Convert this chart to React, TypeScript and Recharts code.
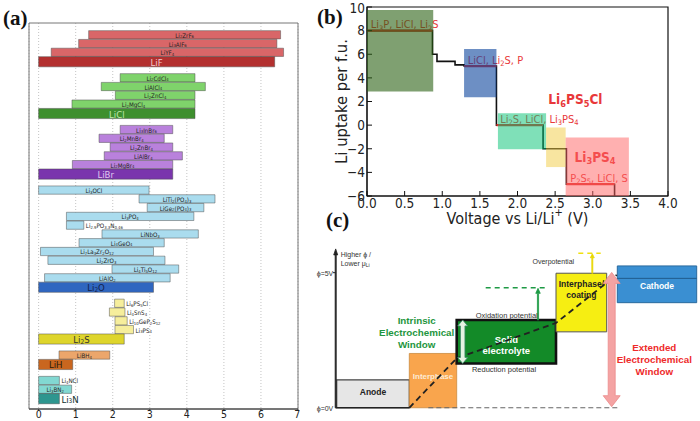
import React from 'react'
import {
  ComposedChart,
  XAxis,
  YAxis,
  CartesianGrid,
  ReferenceArea,
  ReferenceLine,
  ReferenceDot,
  Line,
  Label,
} from 'recharts'

// ---------- (a) electrochemical windows, V vs Li/Li+
const fluorideNames = ['Li2ZrF6', 'Li3AlF6', 'LiYF4', 'LiF']
const fluorideLo = [1.35, 1.08, 0.34, 0]
const fluorideHi = [6.53, 6.43, 6.61, 6.37]

const chlorideNames = ['Li2CdCl4', 'LiAlCl4', 'Li2ZnCl4', 'Li2MgCl4', 'LiCl']
const chlorideLo = [2.2, 1.69, 2.07, 0.9, 0]
const chlorideHi = [4.22, 4.5, 4.22, 4.22, 4.22]

const bromideNames = ['Li3InBr6', 'Li2MnBr4', 'Li2ZnBr4', 'LiAlBr4', 'Li2MgBr4', 'LiBr']
const bromideLo = [2.2, 1.63, 1.93, 1.77, 0.91, 0]
const bromideHi = [3.62, 3.39, 3.62, 3.88, 3.62, 3.62]

const oxideNames = [
  'Li3OCl', 'LiTi2(PO4)3', 'LiGe2(PO4)3', 'Li3PO4', 'Li2.9PO3.3N0.46', 'LiNbO3',
  'Li4GeO4', 'Li7La3Zr2O12', 'Li2ZrO3', 'Li4Ti5O12', 'LiAlO2', 'Li2O',
]
const oxideLo = [0, 2.71, 2.93, 0.75, 0.75, 1.71, 1.09, 0.05, 0.25, 1.98, 0.16, 0]
const oxideHi = [2.98, 4.76, 4.46, 4.19, 1.22, 4.31, 3.39, 3.1, 3.41, 3.78, 3.55, 3.1]

const sulfideNames = ['Li6PS5Cl', 'Li4SnS4', 'Li10GeP2S12', 'Li3PS4', 'Li2S']
const sulfideLo = [2.05, 1.91, 2.06, 2.06, 0]
const sulfideHi = [2.31, 2.33, 2.39, 2.56, 2.31]

const hydrideNames = ['LiBH4', 'LiH']
const hydrideLo = [0.55, 0]
const hydrideHi = [1.92, 0.92]

const nitrideNames = ['Li4NCl', 'Li3BN2', 'Li3N']
const nitrideLo = [0, 0, 0]
const nitrideHi = [0.56, 0.89, 0.56]

const voltTicksA = [0, 1, 2, 3, 4, 5, 6, 7]

// ---------- (b) Li6PS5Cl lithiation
const stepV = [0, 0.87, 0.93, 1.17, 1.29, 1.72, 2.34, 2.65, 3.29]
const stepU = [8, 6, 5.4, 5.1, 5, 0, -2, -5, -6]
const phaseNames = ['Li3P, LiCl, Li2S', 'LiCl, Li2S, P', 'Li2S, LiCl, Li3PS4', 'P2S5, LiCl, S']
const phaseFrom = [0, 1.29, 1.72, 2.65]
const phaseTo = [0.87, 1.72, 2.34, 3.29]
const phaseU = [8, 5, 0, -5]
const boxV1 = [0, 1.29, 1.74, 2.38, 2.64]
const boxV2 = [0.88, 1.72, 2.38, 2.64, 3.48]
const boxU1 = [2.85, 2.35, -2.05, -3.55, -6]
const boxU2 = [9.75, 6.45, 1.0, -0.2, -1.05]
const voltTicksB = [0, 0.5, 1, 1.5, 2, 2.5, 3, 3.5, 4]
const uptakeTicks = [-6, -4, -2, 0, 2, 4, 6, 8, 10]

// ---------- (c) schematic of potentials
const layerNames = ['Anode', 'Interphase', 'Solid\nelectrolyte', 'Interphase/\ncoating', 'Cathode']
const layerFrom = [2.67, 9.93, 14.67, 24.6, 30.73]
const layerTo = [9.93, 14.67, 24.6, 29.67, 38.67]
const layerLow = [0, 0, 1.64, 2.81, 3.89]
const layerHigh = [1.03, 2.01, 3.25, 4.98, 5.25]
const potentialX = [9.93, 14.67, 24.6, 30.67]
const potentialPhi = [0, 1.83, 3.14, 4.92]

const groupStyle = [
  { light: '#d96668', dark: '#b3302f', text: '#f4cccc' },
  { light: '#7fd36b', dark: '#3e8f2e', text: '#bfe8ae' },
  { light: '#b981dc', dark: '#7a35ad', text: '#e0c6f0' },
  { light: '#aadcee', dark: '#2f66c0', text: '#12204a' },
  { light: '#f6ee9c', dark: '#ded52c', text: '#333' },
  { light: '#eca66b', dark: '#c9661f', text: '#2a1a0a' },
  { light: '#82d8d2', dark: '#2e968f', text: '#10302e' },
]
const outsideLabels = ['Li2.9PO3.3N0.46', 'Li6PS5Cl', 'Li4SnS4', 'Li10GeP2S12', 'Li3PS4', 'Li4NCl', 'Li3N']

const groups = [
  [fluorideNames, fluorideLo, fluorideHi],
  [chlorideNames, chlorideLo, chlorideHi],
  [bromideNames, bromideLo, bromideHi],
  [oxideNames, oxideLo, oxideHi],
  [sulfideNames, sulfideLo, sulfideHi],
  [hydrideNames, hydrideLo, hydrideHi],
  [nitrideNames, nitrideLo, nitrideHi],
] as [string[], number[], number[]][]

type Row = { name: string; lo: number; hi: number; pos: number; base: boolean; fill: string; text: string }
const rows: Row[] = []
let cursor = 0
groups.forEach(([names, lo, hi], gi) => {
  names.forEach((name, i) => {
    const base = i === names.length - 1
    if (i > 0) cursor += base ? 1.075 : 1
    else if (gi > 0) cursor += 1.825
    const st = groupStyle[gi]
    rows.push({ name, lo: lo[i], hi: hi[i], pos: cursor, base, fill: base ? st.dark : st.light, text: base ? st.text : '#222' })
  })
})

const stepData = stepV.map((v, i) => ({ v, u: stepU[i] }))
const potentialData = potentialX.map((x, i) => ({ x, phi: potentialPhi[i] }))

function Formula({ x, y, text, size, fill = '#222', anchor = 'middle', weight = 'normal' }: any) {
  const parts: string[] = text.match(/[0-9.]+|[^0-9.]+/g) || []
  const drop = size * 0.28
  let low = false
  return (
    <text x={x} y={y} fontSize={size} fill={fill} textAnchor={anchor} fontWeight={weight} dominantBaseline="central">
      {parts.map((p, i) => {
        const sub = /^[0-9.]/.test(p)
        const dy = sub === low ? 0 : sub ? drop : -drop
        low = sub
        return (
          <tspan key={i} dy={dy} fontSize={sub ? size * 0.68 : size}>
            {p}
          </tspan>
        )
      })}
    </text>
  )
}

function BarLabel({ viewBox, row }: any) {
  if (!viewBox) return null
  const { x, y, width, height } = viewBox
  const out = outsideLabels.includes(row.name)
  return (
    <Formula
      x={out ? x + width + 2 : x + width / 2}
      y={y + height / 2}
      text={row.name}
      size={row.base ? 9.5 : 6.2}
      anchor={out ? 'start' : 'middle'}
      fill={row.text}
    />
  )
}

function FormulaNote({ viewBox, text, size, fill, anchor, weight }: any) {
  if (!viewBox) return null
  return <Formula x={viewBox.x} y={viewBox.y} text={text} size={size} fill={fill} anchor={anchor} weight={weight} />
}

function Note({ viewBox, lines, size = 8, fill = '#333', weight = 'normal', anchor = 'middle', lh = 12 }: any) {
  if (!viewBox) return null
  const x = viewBox.x
  const y = viewBox.y - ((lines.length - 1) * lh) / 2
  return (
    <text x={x} y={y} fontSize={size} fill={fill} fontWeight={weight} textAnchor={anchor} dominantBaseline="central">
      {lines.map((l: any, i: number) => (
        <tspan key={i} x={x} dy={i === 0 ? 0 : lh}>
          {l}
        </tspan>
      ))}
    </text>
  )
}

function LayerLabel({ viewBox, text, size, fill, shift }: any) {
  if (!viewBox) return null
  const lines = text.split('\n')
  const lh = size * 1.2
  const x = viewBox.x + viewBox.width / 2
  const y = viewBox.y + viewBox.height / 2 + shift - ((lines.length - 1) * lh) / 2
  return (
    <text x={x} y={y} fontSize={size} fill={fill} fontWeight="bold" textAnchor="middle" dominantBaseline="central">
      {lines.map((l: string, i: number) => (
        <tspan key={i} x={x} dy={i === 0 ? 0 : lh}>
          {l}
        </tspan>
      ))}
    </text>
  )
}

const arrow = (shaft: number, head: number, headLen: number, both: boolean, fill: string, stroke: string) => (p: any) => {
  const x = p.x1
  const top = Math.min(p.y1, p.y2)
  const bot = Math.max(p.y1, p.y2)
  const s = shaft / 2
  const h = head / 2
  const pts = both
    ? [[x, top], [x + h, top + headLen], [x + s, top + headLen], [x + s, bot - headLen], [x + h, bot - headLen], [x, bot],
       [x - h, bot - headLen], [x - s, bot - headLen], [x - s, top + headLen], [x - h, top + headLen]]
    : [[x, top], [x + h, top + headLen], [x + s, top + headLen], [x + s, bot], [x - s, bot], [x - s, top + headLen], [x - h, top + headLen]]
  return <polygon points={pts.map((q) => q.join(',')).join(' ')} fill={fill} stroke={stroke} strokeWidth={0.8} />
}

function PanelA() {
  return (
    <div style={{ position: 'absolute', left: 0, top: 0 }}>
      <ComposedChart width={300} height={421} data={rows} margin={{ top: 23, right: 2, bottom: 0, left: 29 }}>
        <CartesianGrid horizontal={false} stroke="#c4c4c4" strokeDasharray="1 2" />
        <XAxis
          type="number"
          dataKey="hi"
          domain={[-0.26, 7]}
          ticks={voltTicksA}
          allowDataOverflow
          height={12}
          tickSize={2}
          tickMargin={0}
          stroke="#333"
          tick={{ fontSize: 10.5, fill: '#222' }}
        />
        <YAxis type="number" dataKey="pos" domain={[-1.34, 42.65]} reversed hide width={0} allowDataOverflow />
        <ReferenceArea x1={-0.26} x2={7} y1={-1.34} y2={42.65} fill="none" stroke="#777" ifOverflow="visible" />
        {rows.map((r) => {
          const h = r.base ? 0.58 : 0.47
          return (
            <ReferenceArea
              key={r.name}
              x1={r.lo}
              x2={r.hi}
              y1={r.pos - h}
              y2={r.pos + h}
              fill={r.fill}
              fillOpacity={1}
              stroke="#4a4a4a"
              strokeOpacity={0.6}
              strokeWidth={0.8}
              ifOverflow="visible"
              label={<BarLabel row={r} />}
            />
          )
        })}
      </ComposedChart>
    </div>
  )
}

const boxFill = ['#2a6112', '#0c449d', '#00c171', '#f1cb41', '#ff6161']
const boxAlpha = [0.6, 0.6, 0.5, 0.5, 0.5]

function YTitle({ viewBox }: any) {
  if (!viewBox) return null
  const x = viewBox.x + 31
  const y = viewBox.y + viewBox.height / 2
  return (
    <text x={x} y={y} transform={`rotate(-90 ${x} ${y})`} fontSize={16.5} fill="#222" textAnchor="middle" dominantBaseline="central">
      Li uptake per f.u.
    </text>
  )
}

function XTitle({ viewBox }: any) {
  if (!viewBox) return null
  const x = viewBox.x + viewBox.width / 2
  const y = viewBox.y + 22
  return (
    <text x={x} y={y} fontSize={16} fill="#222" textAnchor="middle" dominantBaseline="central">
      Voltage vs Li/Li
      <tspan dy={-6} fontSize={11}>+</tspan>
      <tspan dy={6}>{'  (V)'}</tspan>
    </text>
  )
}

function PanelB() {
  const red = '#e8383a'
  return (
    <div style={{ position: 'absolute', left: 310, top: 0 }}>
      <ComposedChart width={390} height={230} data={stepData} margin={{ top: 7, right: 32, bottom: 0, left: 0 }}>
        <XAxis
          type="number"
          dataKey="v"
          domain={[0, 4]}
          ticks={voltTicksB}
          tickFormatter={(v: number) => v.toFixed(1)}
          height={34}
          tickSize={-5}
          tickMargin={7}
          stroke="#111"
          tick={{ fontSize: 13.5, fill: '#222' }}
          allowDataOverflow
        >
          <Label content={<XTitle />} />
        </XAxis>
        <YAxis
          type="number"
          domain={[-6, 10]}
          ticks={uptakeTicks}
          tickFormatter={(v: number) => String(v).replace('-', '\u2212')}
          width={57}
          tickSize={-5}
          tickMargin={7}
          stroke="#111"
          tick={{ fontSize: 13.5, fill: '#222' }}
          allowDataOverflow
        >
          <Label content={<YTitle />} />
        </YAxis>
        <Line type="stepAfter" dataKey="u" stroke="#111" strokeWidth={1.6} dot={false} isAnimationActive={false} />
        {phaseNames.map((n, i) => (
          <ReferenceLine
            key={n}
            segment={[{ x: phaseFrom[i], y: phaseU[i] }, { x: phaseTo[i], y: phaseU[i] }]}
            stroke="#e0302c"
            strokeWidth={2.2}
            ifOverflow="visible"
          />
        ))}
        {phaseNames.map((n, i) => (
          <ReferenceDot
            key={'t' + n}
            x={phaseFrom[i] + 0.05}
            y={phaseU[i] + 0.52}
            r={0}
            fill="none"
            stroke="none"
            ifOverflow="visible"
            label={<FormulaNote text={n} size={11} fill={red} anchor="start" />}
          />
        ))}
        <ReferenceDot x={2.77} y={2.2} r={0} fill="none" stroke="none" ifOverflow="visible"
          label={<FormulaNote text="Li6PS5Cl" size={13.5} fill={red} anchor="middle" weight="bold" />} />
        <ReferenceDot x={3.03} y={-2.67} r={0} fill="none" stroke="none" ifOverflow="visible"
          label={<FormulaNote text="Li3PS4" size={13.5} fill={red} anchor="middle" weight="bold" />} />
        {boxV1.map((v, i) => (
          <ReferenceArea
            key={'b' + i}
            x1={v}
            x2={boxV2[i]}
            y1={boxU1[i]}
            y2={boxU2[i]}
            fill={boxFill[i]}
            fillOpacity={boxAlpha[i]}
            ifOverflow="visible"
            {...({ zIndex: 2600 } as any)}
          />
        ))}
        <ReferenceArea x1={0} x2={4} y1={-6} y2={10} fill="none" stroke="#111" strokeWidth={1.2} ifOverflow="visible" />
      </ComposedChart>
    </div>
  )
}

const layerFill = ['#e6e6e6', '#f9a54d', '#138a28', '#f6ee12', '#3a8fd2']
const layerStroke = ['#444', '#c98a40', '#111', '#555', '#2a6a9e']
const layerStrokeW = [1.2, 0.8, 2.6, 1, 1]
const layerText = ['#222', '#fdebd6', '#fff', '#222', '#fff']
const layerSize = [8.5, 8, 9.5, 8.5, 8.5]
const layerShift = [-2, -5, 3, -13, 2]

function PanelC() {
  return (
    <div style={{ position: 'absolute', left: 310, top: 230, fontFamily: '"Liberation Sans", Arial, sans-serif' }}>
      <ComposedChart width={390} height={191} data={potentialData} margin={{ top: 0, right: 0, bottom: 0, left: 0 }}>
        <XAxis type="number" dataKey="x" domain={[0, 39]} hide allowDataOverflow />
        <YAxis type="number" domain={[-0.49, 6.58]} hide width={0} allowDataOverflow />
        {layerNames.map((n, i) => (
          <ReferenceArea
            key={n}
            x1={layerFrom[i]}
            x2={layerTo[i]}
            y1={layerLow[i]}
            y2={layerHigh[i]}
            fill={layerFill[i]}
            fillOpacity={1}
            stroke={layerStroke[i]}
            strokeWidth={layerStrokeW[i]}
            ifOverflow="visible"
            label={<LayerLabel text={n} size={layerSize[i]} fill={layerText[i]} shift={layerShift[i]} />}
          />
        ))}
        <ReferenceLine segment={[{ x: 30.73, y: 4.79 }, { x: 38.67, y: 4.79 }]} stroke="#1f5a8c" strokeWidth={1} ifOverflow="visible" />
        <ReferenceLine segment={[{ x: 11.83, y: 0 }, { x: 30.83, y: 0 }]} stroke="#666" strokeWidth={1.2} strokeDasharray="5 3" ifOverflow="visible" />
        <Line type="linear" dataKey="phi" stroke="#222" strokeWidth={1.8} strokeDasharray="6 4" dot={false} isAnimationActive={false} />
        <ReferenceLine segment={[{ x: 17.57, y: 4.44 }, { x: 23.5, y: 4.44 }]} stroke="#1e9a45" strokeWidth={1.6} strokeDasharray="5 4" ifOverflow="visible" />
        <ReferenceLine segment={[{ x: 22.8, y: 3.25 }, { x: 22.8, y: 4.42 }]} ifOverflow="visible" shape={arrow(1.2, 4.5, 5, false, '#1e9a45', '#1e9a45')} />
        <ReferenceLine segment={[{ x: 26.83, y: 5.72 }, { x: 29.07, y: 5.72 }]} stroke="#f0e010" strokeWidth={1.6} strokeDasharray="5 4" ifOverflow="visible" />
        <ReferenceLine segment={[{ x: 28.23, y: 4.98 }, { x: 28.23, y: 5.7 }]} ifOverflow="visible" shape={arrow(1, 4, 4, false, '#e8d800', '#e8d800')} />
        <ReferenceLine segment={[{ x: 30.17, y: 0.04 }, { x: 30.17, y: 5.01 }]} ifOverflow="visible" shape={arrow(7, 17, 11, true, '#f4a3a3', '#ec8a8a')} />
        <ReferenceLine segment={[{ x: 15.27, y: 1.64 }, { x: 15.27, y: 3.25 }]} ifOverflow="visible" shape={arrow(4.5, 10, 6, true, '#e6f3e3', '#3d8c6a')} />
        <ReferenceLine segment={[{ x: 2.57, y: 0 }, { x: 2.57, y: 5.88 }]} ifOverflow="visible" shape={arrow(1.1, 4, 6, false, '#222', '#222')} />
        <ReferenceLine segment={[{ x: 2.3, y: 5 }, { x: 2.57, y: 5 }]} stroke="#222" ifOverflow="visible" />
        <ReferenceLine segment={[{ x: 2.57, y: 0 }, { x: 9.93, y: 0 }]} stroke="#222" strokeWidth={1.6} ifOverflow="visible" />
        <ReferenceDot x={2.33} y={5} r={0} fill="none" stroke="none" ifOverflow="visible"
          label={<Note lines={['\u03d5=5V']} size={7} anchor="end" />} />
        <ReferenceDot x={2.33} y={0} r={0} fill="none" stroke="none" ifOverflow="visible"
          label={<Note lines={['\u03d5=0V']} size={7} anchor="end" />} />
        <ReferenceDot x={3.07} y={5.52} r={0} fill="none" stroke="none" ifOverflow="visible"
          label={<Note lines={['Higher \u03d5 /', <>{'Lower \u03bc'}<tspan fontSize={5} dy={2}>Li</tspan></>]} size={7} anchor="start" lh={9.3} />} />
        <ReferenceDot x={24.33} y={5.44} r={0} fill="none" stroke="none" ifOverflow="visible"
          label={<Note lines={['Overpotential']} size={7} />} />
        <ReferenceDot x={19.67} y={3.43} r={0} fill="none" stroke="none" ifOverflow="visible"
          label={<Note lines={['Oxidation potential']} size={7.5} />} />
        <ReferenceDot x={19.4} y={1.43} r={0} fill="none" stroke="none" ifOverflow="visible"
          label={<Note lines={['Reduction potential']} size={7.5} />} />
        <ReferenceDot x={10.67} y={2.81} r={0} fill="none" stroke="none" ifOverflow="visible"
          label={<Note lines={['Intrinsic', 'Electrochemical', 'Window']} size={9.8} fill="#1e9640" weight="bold" />} />
        <ReferenceDot x={34.43} y={1.81} r={0} fill="none" stroke="none" ifOverflow="visible"
          label={<Note lines={['Extended', 'Electrochemical', 'Window']} size={9.8} fill="#ee2b2b" weight="bold" />} />
      </ComposedChart>
    </div>
  )
}

function Tag({ x, y, text }: { x: number; y: number; text: string }) {
  return (
    <div
      style={{
        position: 'absolute',
        left: x,
        top: y,
        fontFamily: '"Liberation Serif", "Times New Roman", serif',
        fontWeight: 'bold',
        fontSize: 21,
        lineHeight: '21px',
        color: '#111',
      }}
    >
      {text}
    </div>
  )
}

export default function App() {
  return (
    <div
      style={{
        position: 'absolute',
        left: 0,
        top: 0,
        width: 700,
        height: 421,
        background: '#fff',
        overflow: 'hidden',
        fontFamily: '"DejaVu Sans Condensed", "DejaVu Sans", sans-serif',
      }}
    >
      <PanelA />
      <PanelB />
      <PanelC />
      <Tag x={3} y={8} text="(a)" />
      <Tag x={317} y={7} text="(b)" />
      <Tag x={326} y={210} text="(c)" />
    </div>
  )
}
